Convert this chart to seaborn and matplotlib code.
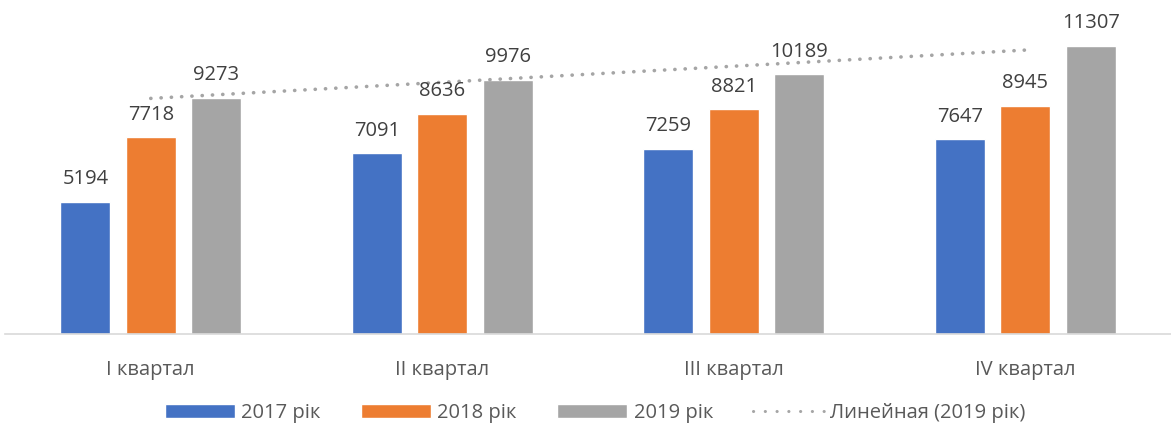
import numpy as np
import pandas as pd
import matplotlib.pyplot as plt
import seaborn as sns
from matplotlib.lines import Line2D

# Data
quarters = ["I квартал", "II квартал", "III квартал", "IV квартал"]
years = ["2017 рік", "2018 рік", "2019 рік"]
values_2017 = [5194, 7091, 7259, 7647]
values_2018 = [7718, 8636, 8821, 8945]
values_2019 = [9273, 9976, 10189, 11307]
trend_label = "Линейная (2019 рік)"

colors = ["#4472C4", "#ED7D31", "#A5A5A5"]

df = pd.DataFrame({
    "quarter": quarters * 3,
    "year": [y for y in years for _ in quarters],
    "value": values_2017 + values_2018 + values_2019,
})

sns.set_theme(style="white")
plt.rcParams["font.family"] = ["Open Sans", "DejaVu Sans"]

fig = plt.figure(figsize=(11.71, 4.34), dpi=100)
ax = fig.add_axes([5 / 1171, 100 / 434, 1166 / 1171, 331.5 / 434])

sns.barplot(data=df, x="quarter", y="value", hue="year", order=quarters,
            hue_order=years, palette=colors, width=0.673, gap=0.237,
            saturation=1, ax=ax, legend=True)

for cont in ax.containers:
    ax.bar_label(cont, padding=9, fontsize=14.5, color="#404040")

# linear trend for 2019
xs = np.arange(len(quarters))
k, b = np.polyfit(xs, values_2019, 1)
ax.plot([xs[0], xs[-1]], [b + k * xs[0], b + k * xs[-1]], color="#A5A5A5",
        lw=2.6, linestyle=(0, (0.05, 2.8)), dash_capstyle="round")

ax.set_xlim(-0.5, len(quarters) - 0.5)
ax.set_ylim(0, 13000)
ax.set_xlabel("")
ax.set_ylabel("")
ax.set_yticks([])
for s in ["top", "left", "right"]:
    ax.spines[s].set_visible(False)
ax.spines["bottom"].set_color("#D9D9D9")
ax.spines["bottom"].set_linewidth(1.2)
ax.tick_params(axis="x", length=0, pad=19, labelsize=14.5, labelcolor="#595959")

handles, labels = ax.get_legend_handles_labels()
ax.get_legend().remove()
trend_handle = Line2D([], [], color="#A5A5A5", lw=2.2,
                      linestyle=(0, (0.05, 3.8)), dash_capstyle="round")
handles = list(handles) + [trend_handle]
labels = list(labels) + [trend_label]
fig.legend(handles, labels, loc="center", bbox_to_anchor=(0.508, 0.048),
           ncol=4, frameon=False, fontsize=14.5, labelcolor="#595959",
           handlelength=3.5, handleheight=0.7, handletextpad=0.3,
           columnspacing=2.0)

plt.savefig("out.png", dpi=100)
